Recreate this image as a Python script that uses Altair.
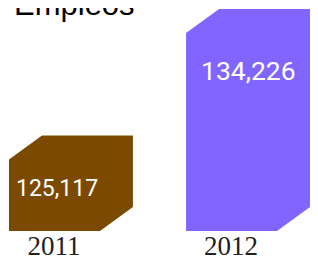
import altair as alt
import pandas as pd

# ---- data ----
title_text = ["Empleos"]
years = ["2011", "2012"]
jobs = [125117, 134226]
bar_colors = ["#7B4A00", "#8066FF"]
axis_floor = 118250  # value axis does not start at zero

df = pd.DataFrame({"year": years, "jobs": jobs})
df["label"] = [f"{v:,}" for v in jobs]
df["floor"] = axis_floor
title_df = pd.DataFrame({"t": title_text})

# custom symbol paths used to cut the chamfered corners (unit square -1..1)
TL_CUT = "M 1 -1 L -1 0.4545 L -1.35 0.4545 L -1.35 -1.35 L 1 -1.35 Z"
BR_CUT = "M -1 1 L 1 -0.4545 L 1.35 -0.4545 L 1.35 1.35 L -1 1.35 Z"
CUT = 33  # px leg of the cut

PLOT_W = 301
PAD_INNER = 0.3
half_band = PLOT_W / (2 - PAD_INNER) * (1 - PAD_INNER) / 2

x = alt.X(
    "year:N",
    sort=years,
    scale=alt.Scale(paddingInner=PAD_INNER, paddingOuter=0),
    axis=alt.Axis(
        title=None, labelAngle=0, domain=False, ticks=False,
        labelPadding=2, labelOffset=-17, labelFont="Liberation Serif",
        labelFontSize=27, labelColor="#222222", labelBaseline="top",
        zindex=2,
    ),
)
yscale = alt.Scale(domain=[axis_floor, max(jobs)], zero=False, nice=False)
y = alt.Y("jobs:Q", scale=yscale, axis=None)

base = alt.Chart(df)

bars = base.mark_bar().encode(
    x=x, y=y, y2="floor:Q",
    color=alt.Color("year:N", scale=alt.Scale(domain=years, range=bar_colors), legend=None),
)

top_cut = base.mark_point(
    shape=TL_CUT, size=CUT * CUT, filled=True, color="white", opacity=1,
    strokeWidth=0, xOffset=-(half_band - CUT / 2), yOffset=CUT / 2,
).encode(x=x, y=y)

bottom_cut = base.mark_point(
    shape=BR_CUT, size=CUT * CUT, filled=True, color="white", opacity=1,
    strokeWidth=0, xOffset=(half_band - CUT / 2), yOffset=-CUT / 2,
).encode(x=x, y=alt.Y("floor:Q", scale=yscale, axis=None))

text_style = dict(align="left", baseline="alphabetic", color="white", font="Roboto")
lab_2011 = base.transform_filter(alt.datum.year == years[0]).mark_text(
    dx=-(half_band - 7), dy=60, fontSize=23, **text_style
).encode(x=x, y=y, text="label:N")
lab_2012 = base.transform_filter(alt.datum.year == years[1]).mark_text(
    dx=-47, dy=71, fontSize=26.5, **text_style
).encode(x=x, y=y, text="label:N")

# chart heading, partly cut by the top edge as in the reference
heading = alt.Chart(title_df).mark_text(
    align="left", baseline="alphabetic", font="Liberation Sans", fontSize=31,
    color="black",
).encode(x=alt.value(5), y=alt.value(6), text="t:N")

chart = alt.layer(bars, top_cut, bottom_cut, lab_2011, lab_2012, heading).properties(
    width=PLOT_W,
    height=222,
    autosize="none",
    padding={"left": 1, "top": 1, "right": 0, "bottom": 24},
).configure_view(stroke=None)

chart.save("out.html", embed_options={"renderer": "svg", "actions": False})
